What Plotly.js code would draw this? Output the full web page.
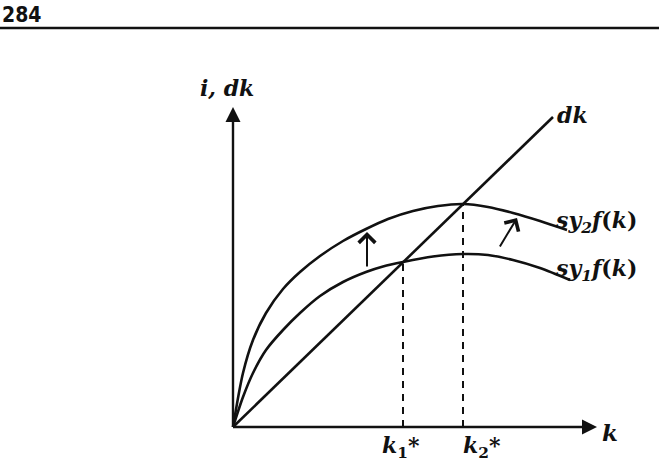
<!DOCTYPE html>
<html><head><meta charset="utf-8">
<script src="https://cdn.plot.ly/plotly-3.0.1.min.js"></script>
<style>html,body{margin:0;padding:0;background:#fff}</style>
</head><body>
<div id="chart" style="width:659px;height:467px"></div>
<script>
// capital per worker k (chart units) and curves
const kUpper   = [0, 10, 20, 33, 50, 67, 87, 110, 133, 155, 180, 205, 230, 255, 280, 307, 334];
const upperSF  = [0, 54, 87, 114, 138, 155, 171, 186, 198, 208, 216, 221, 223, 220, 214, 206, 197];
const kLower   = [0, 10, 20, 33, 50, 67, 87, 110, 133, 150, 170, 200, 230, 255, 280, 307, 337];
const lowerSF  = [0, 30, 54, 77, 97, 114, 131, 145, 155, 160.5, 165, 170.5, 173, 172, 167, 159, 147];
const dkK = [0, 320];
const dkI = [0, 310];
const kStar = [170, 230];          // k1*, k2*
const kStarI = [165, 223];         // heights at intersections
const axisEnd = {k: 364, i: 320};
const upArrow = {k0: 134, i0: 159, k1: 134, i1: 195};
const diagArrow = {k0: 266, i0: 179, k1: 284, i1: 209};

const serif = "DejaVu Serif, Liberation Serif, serif";
const lineStyle = {color: '#111', width: 2.6};
const curveLine = Object.assign({shape: 'spline', smoothing: 0.8}, lineStyle);

const traces = [
  {x: kUpper, y: upperSF, mode: 'lines', line: curveLine, hoverinfo: 'skip'},
  {x: kLower, y: lowerSF, mode: 'lines', line: curveLine, hoverinfo: 'skip'},
  {x: dkK, y: dkI, mode: 'lines', line: lineStyle, hoverinfo: 'skip'},
  {x: [kStar[0], kStar[0]], y: [0, kStarI[0]], mode: 'lines', line: {color: '#111', width: 2, dash: '7px,6px'}, hoverinfo: 'skip'},
  {x: [kStar[1], kStar[1]], y: [0, kStarI[1]], mode: 'lines', line: {color: '#111', width: 2, dash: '7px,6px'}, hoverinfo: 'skip'},
  {x: [0, 0], y: [0, axisEnd.i - 8], mode: 'lines', line: {color: '#111', width: 2.4}, hoverinfo: 'skip'},
  {x: [0, axisEnd.k - 8], y: [0, 0], mode: 'lines', line: {color: '#111', width: 2.4}, hoverinfo: 'skip'}
];

function arrow(x, y, ax, ay, head, size, w) {
  return {x: x, y: y, ax: ax, ay: ay, xref: 'x', yref: 'y', axref: 'x', ayref: 'y',
          showarrow: true, arrowhead: head, arrowsize: size, arrowwidth: w, arrowcolor: '#111', text: ''};
}
function label(x, y, text, size, xanchor) {
  return {x: x, y: y, xref: 'x', yref: 'y', text: text, showarrow: false,
          xanchor: xanchor || 'center', yanchor: 'middle',
          font: {family: serif, size: size || 22, color: '#111'}};
}

const annotations = [
  arrow(0, axisEnd.i, 0, axisEnd.i - 20, 2, 1.5, 2),
  arrow(axisEnd.k, 0, axisEnd.k - 20, 0, 2, 1.5, 2),
  arrow(upArrow.k1, upArrow.i1, upArrow.k0, upArrow.i0, 4, 1.6, 2),
  arrow(diagArrow.k1, diagArrow.i1, diagArrow.k0, diagArrow.i0, 4, 1.6, 2),
  label(-6, 339, '<b><i>i, dk</i></b>', 22),
  label(322, 312, '<b><i>dk</i></b>', 22, 'left'),
  label(320, 205, '<b><i>sy<sub>2</sub>f</i>(<i>k</i>)</b>', 22, 'left'),
  label(320, 157, '<b><i>sy<sub>1</sub>f</i>(<i>k</i>)</b>', 22, 'left'),
  label(367, -5, '<b><i>k</i></b>', 23, 'left'),
  label(168, -20, '<b><i>k</i><sub>1</sub>*</b>', 22),
  label(249, -20, '<b><i>k</i><sub>2</sub>*</b>', 22),
  {x: 0, y: 1, xref: 'paper', yref: 'paper', xanchor: 'left', yanchor: 'top', showarrow: false,
   text: '<b>284</b>', font: {family: 'Liberation Sans Narrow, DejaVu Sans Condensed, sans-serif', size: 21, color: '#111'}, yshift: -1}
];

const layout = {
  width: 659, height: 467,
  margin: {l: 0, r: 0, t: 0, b: 0},
  paper_bgcolor: '#fff', plot_bgcolor: '#fff',
  showlegend: false,
  xaxis: {range: [-233, 426], visible: false, fixedrange: true},
  yaxis: {range: [-40, 427], visible: false, fixedrange: true},
  shapes: [
    {type: 'line', xref: 'paper', yref: 'paper', x0: 0, x1: 1, y0: 1 - 28/467, y1: 1 - 28/467,
     line: {color: '#111', width: 2.5}}
  ],
  annotations: annotations
};

Plotly.newPlot('chart', traces, layout, {staticPlot: true, displayModeBar: false});
</script>
</body></html>
